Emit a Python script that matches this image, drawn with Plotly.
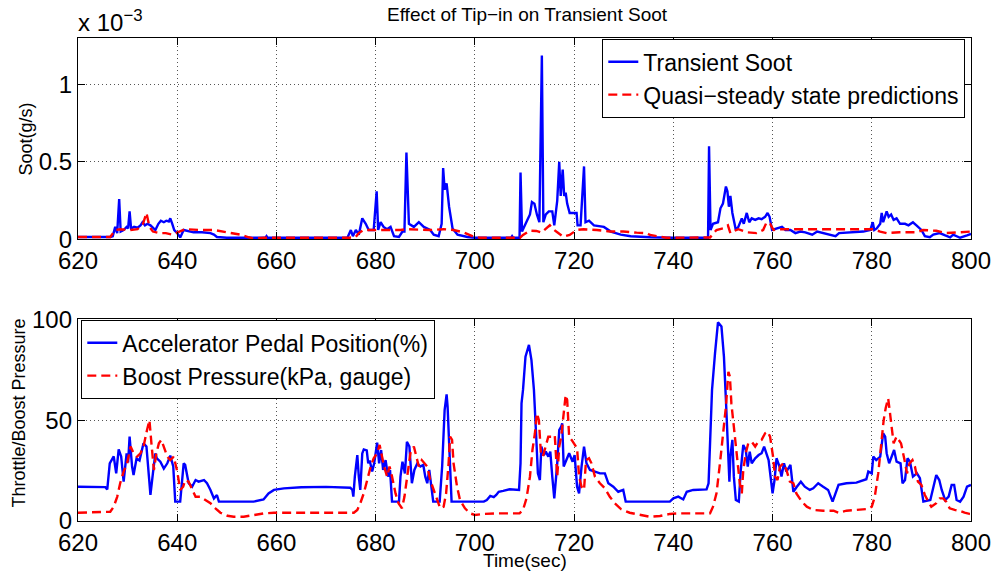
import plotly.graph_objects as go

# ---- Soot rate (units of 1e-3 g/s) ----
soot_t = [620, 626.5, 627.0, 627.5, 627.9, 628.3, 628.6, 629.2, 629.8, 630.1, 630.4, 630.7, 631.3, 632.0,
          632.6, 633.0, 633.5, 634.0, 634.6, 635.2, 635.6, 636.2, 636.7, 637.3, 637.8, 638.3, 638.6, 639.0,
          639.4, 640.0, 640.6, 641.3, 642.3, 643.3, 645.0, 646.7, 647.4, 648.0, 650, 657.8, 658.0, 658.2,
          674.3, 675.0, 675.4, 676.0, 676.6, 677.3, 678.0, 678.6, 679.6, 680.2, 680.5, 681.0, 681.6, 682.3,
          683.0, 683.7, 684.7, 685.4, 685.8, 686.2, 686.7, 687.7, 688.7, 689.7, 691.0, 691.7, 692.7, 693.3,
          693.6, 693.9, 694.3, 694.8, 695.5, 696.5, 698.5, 700, 707.3, 707.5, 707.7, 709.0, 709.2, 709.5,
          710.5, 711.1, 711.5, 712.0, 712.5, 713.0, 713.5, 713.8, 714.3, 714.9, 715.6, 716.0, 716.6, 717.0,
          717.3, 717.7, 718.0, 718.3, 718.6, 719.1, 720.5, 720.7, 721.3, 722.0, 722.3, 723.0, 724.0, 726.0,
          727.4, 729.4, 731.4, 735.4, 740, 747.0, 747.2, 747.5, 748.0, 749.0, 749.5, 750.0, 750.6, 750.9,
          751.2, 751.5, 751.9, 752.2, 752.6, 753.1, 753.8, 754.2, 754.8, 755.3, 755.8, 756.5, 757.2, 757.8,
          758.5, 759.0, 759.4, 759.9, 760.9, 761.9, 762.6, 763.6, 764.6, 765.6, 766.6, 768.0, 769.0, 770.3,
          771.7, 772.7, 773.4, 775.0, 776.4, 778.3, 779.7, 780.2, 780.5, 781.0, 781.7, 782.0, 782.3, 783.0,
          783.4, 783.9, 784.4, 785.0, 785.7, 786.7, 787.4, 788.3, 789.0, 790.0, 790.7, 791.7, 792.4, 793.7,
          794.8, 795.8, 796.4, 797.8, 799.2, 800]
soot_v = [0.015, 0.015, 0.02, 0.08, 0.04, 0.26, 0.05, 0.06, 0.08, 0.07, 0.18, 0.07, 0.08, 0.075,
          0.09, 0.11, 0.09, 0.10, 0.09, 0.07, 0.06, 0.10, 0.12, 0.11, 0.12, 0.115, 0.135, 0.10,
          0.06, 0.04, 0.012, 0.06, 0.05, 0.045, 0.045, 0.04, 0.03, 0.015, 0.01, 0.01, 0.02, 0.01,
          0.01, 0.06, 0.02, 0.06, 0.03, 0.135, 0.10, 0.06, 0.06, 0.31, 0.06, 0.11, 0.08, 0.065,
          0.08, 0.02, 0.015, 0.05, 0.05, 0.56, 0.10, 0.08, 0.11, 0.08, 0.06, 0.03, 0.02, 0.10,
          0.46, 0.32, 0.36, 0.21, 0.07, 0.03, 0.015, 0.01, 0.01, 0.02, 0.01, 0.01, 0.43, 0.05,
          0.12, 0.16, 0.24, 0.23, 0.16, 0.11, 1.185, 0.11, 0.16, 0.18, 0.18, 0.09, 0.25, 0.50,
          0.28, 0.45, 0.28, 0.30, 0.23, 0.17, 0.17, 0.09, 0.09, 0.47, 0.11, 0.12, 0.09, 0.08,
          0.05, 0.03, 0.02, 0.013, 0.01, 0.01, 0.60, 0.06, 0.10, 0.11, 0.20, 0.23, 0.34, 0.31,
          0.21, 0.28, 0.17, 0.12, 0.06, 0.08, 0.135, 0.10, 0.17, 0.11, 0.135, 0.125, 0.135, 0.13,
          0.145, 0.17, 0.145, 0.06, 0.07, 0.08, 0.06, 0.06, 0.04, 0.05, 0.045, 0.03, 0.05, 0.04,
          0.03, 0.02, 0.04, 0.043, 0.045, 0.05, 0.06, 0.11, 0.06, 0.07, 0.10, 0.17, 0.11, 0.18,
          0.145, 0.16, 0.125, 0.135, 0.10, 0.10, 0.09, 0.11, 0.09, 0.06, 0.02, 0.013, 0.03, 0.04,
          0.025, 0.013, 0.03, 0.01, 0.025, 0.035]

qss_t = [620, 626.5, 627.5, 628.5, 630.5, 632.0, 633.1, 633.8, 634.4, 635.1, 636.4, 637.7, 639.0, 640.6,
         641.6, 644.7, 647.4, 650.0, 652.7, 654.4, 655.4, 657.5, 674.7, 676.0, 676.6, 677.6, 685.0, 686.1,
         691.0, 693.7, 695.7, 697.7, 699.7, 701.0, 709.1, 709.7, 711.1, 712.4, 713.4, 715.1, 715.6, 716.4,
         717.8, 719.1, 720.5, 721.9, 724.6, 727.2, 729.9, 732.6, 734.6, 735.3, 737.3, 738.6, 747.4, 748.7,
         750.0, 751.0, 751.5, 752.0, 753.1, 754.8, 756.8, 758.1, 758.8, 759.5, 760.2, 761.5, 779.7, 780.3,
         781.7, 783.0, 785.6, 789.0, 790.3, 793.0, 795.0, 797.6, 799.7, 800]
qss_v = [0.015, 0.015, 0.06, 0.065, 0.06, 0.065, 0.10, 0.17, 0.08, 0.05, 0.04, 0.04, 0.03, 0.05,
         0.065, 0.06, 0.06, 0.045, 0.03, 0.013, 0.005, 0.01, 0.01, 0.015, 0.04, 0.06, 0.06, 0.065,
         0.06, 0.065, 0.06, 0.045, 0.017, 0.01, 0.01, 0.028, 0.056, 0.054, 0.043, 0.09, 0.07, 0.05,
         0.017, 0.028, 0.06, 0.065, 0.06, 0.05, 0.05, 0.043, 0.04, 0.028, 0.017, 0.01, 0.012, 0.06,
         0.07, 0.09, 0.04, 0.05, 0.065, 0.045, 0.04, 0.06, 0.11, 0.10, 0.06, 0.065, 0.065, 0.065,
         0.05, 0.04, 0.045, 0.045, 0.06, 0.055, 0.04, 0.045, 0.05, 0.05]

# ---- Pedal position (%) and boost pressure (kPa gauge) ----
pedal_t = [620, 625.5, 625.9, 626.4, 627.2, 627.7, 628.2, 628.7, 629.2, 629.8, 630.1, 630.4, 630.9, 631.2,
           631.8, 632.4, 633.2, 633.8, 634.3, 634.6, 635.1, 635.6, 635.9, 636.6, 637.3, 638.0, 638.6, 639.2,
           639.6, 640.6, 641.3, 641.6, 642.3, 643.0, 643.7, 644.3, 645.4, 646.0, 646.7, 647.4, 648.0, 648.4,
           655.4, 656.5, 657.4, 658.4, 659.5, 661.5, 665, 670, 674.9, 675.3, 675.5, 675.8, 676.3, 676.6,
           676.9, 677.3, 677.6, 678.2, 678.5, 678.8, 679.3, 679.7, 680.3, 680.7, 681.1, 681.5, 682.0, 682.5,
           682.9, 683.3, 684.7, 685.0, 685.4, 685.9, 686.3, 686.8, 687.3, 687.8, 688.4, 689.0, 689.6, 690.0,
           690.4, 690.8, 691.2, 691.6, 692.9, 693.4, 693.9, 694.3, 694.5, 694.9, 695.3, 701.8, 702.4, 703.1,
           703.8, 704.3, 704.8, 705.7, 707.0, 708.9, 709.2, 709.4, 709.7, 710.2, 710.9, 711.4, 711.9, 712.3,
           712.7, 713.1, 713.4, 713.9, 714.3, 714.8, 715.2, 715.6, 716.0, 716.6, 717.0, 717.4, 717.6, 717.9,
           718.5, 719.0, 719.7, 720.1, 720.6, 721.0, 721.5, 722.0, 722.5, 723.2, 724.2, 725.2, 726.2, 726.9,
           727.9, 728.9, 729.9, 730.4, 739.3, 740.0, 741.0, 742.0, 742.7, 744.0, 746.7, 747.1, 747.4, 747.8,
           748.4, 749.0, 749.7, 750.2, 750.6, 750.9, 751.3, 751.5, 751.9, 752.2, 752.6, 753.2, 753.6, 754.1,
           754.6, 755.0, 755.4, 755.8, 756.5, 757.2, 757.8, 758.3, 758.8, 759.2, 759.6, 760.0, 760.4, 760.8,
           761.4, 761.8, 762.3, 762.8, 763.6, 764.2, 764.9, 765.7, 766.5, 767.5, 768.2, 769.2, 770.2, 771.2,
           772.1, 772.6, 773.3, 774.9, 776.9, 778.9, 779.3, 780.0, 780.3, 780.9, 781.3, 781.7, 782.0, 782.3,
           782.7, 783.0, 783.5, 784.0, 784.5, 785.0, 785.8, 786.2, 786.7, 787.2, 787.7, 788.3, 789.1, 789.7,
           790.4, 791.8, 792.4, 793.0, 793.6, 794.1, 794.8, 795.5, 796.1, 796.6, 797.1, 797.8, 798.5, 799.2,
           800]
pedal_v = [17.0, 16.8, 15.7, 28.6, 32, 23.6, 35.5, 32, 19.5, 33.5, 29, 41.8, 27, 22.8,
           31, 30, 38.5, 36.9, 22, 12.9, 23.6, 33.5, 31, 29.4, 26, 28.6, 32.4, 27,
           9.6, 9.6, 28.6, 27.8, 18.7, 17, 20.3, 19.5, 20.3, 18.7, 15.4, 11.2, 12.9, 9.6,
           9.6, 10.0, 10.7, 13.7, 15.4, 16.2, 16.7, 16.9, 16.5, 15.4, 12.1, 22, 32.7, 22,
           15.4, 33.5, 35.5, 35, 28.6, 30, 24.5, 28.6, 38.8, 28.6, 35.2, 25.3, 30.2, 22,
           25.3, 9.6, 9.6, 22, 29.4, 23.6, 39.3, 36.9, 18.7, 25.3, 28.6, 27, 27.8, 22,
           18.7, 25.3, 17, 9.6, 9.6, 27, 55, 62.8, 56.7, 33.5, 9.6, 9.6, 10.4, 12.4,
           11.8, 12.9, 14.5, 14.9, 15.7, 15.4, 28.6, 58.3, 65, 81.5, 87.3, 79.8, 65, 45,
           23.6, 20.3, 36.9, 32.7, 34.4, 31.9, 34.4, 22, 11.2, 28.6, 45.1, 46.8, 48.4, 27,
           30.2, 33.6, 29.4, 32.7, 17, 13.7, 27, 36.9, 28.6, 25.3, 24.5, 23.6, 23.6, 18.7,
           17, 14.5, 15.4, 9.6, 9.6, 11.2, 12.1, 10.7, 14.5, 15.4, 15.7, 18.7, 38.5, 65,
           83.1, 98.5, 96.4, 81.5, 60, 40.2, 19.5, 31.9, 40.2, 22, 10.4, 9.6, 25.3, 37.7,
           35.2, 27, 34.4, 28.6, 31.1, 32.7, 33.6, 36.9, 33.6, 30.2, 22, 13.7, 20.3, 31.1,
           27, 22, 28.6, 24.5, 27.8, 14.5, 17, 19.5, 17, 15.4, 16.2, 18.7, 17, 15.4,
           9.6, 12.9, 17.9, 18.7, 19, 20.7, 24.5, 23.6, 31.9, 30.2, 31, 31.9, 37.7, 43.5,
           41.8, 33.6, 28.6, 31.9, 35.2, 29.4, 28.6, 18.7, 20.3, 31.1, 29.4, 22, 23.6, 21.2,
           9.6, 10.4, 17, 22.8, 20.3, 15.4, 10.4, 12.1, 17.9, 17.9, 10.4, 9.6, 12.1, 17,
           17.9]

boost_t = [620, 626.5, 627.2, 627.9, 628.5, 629.2, 629.9, 630.6, 631.2, 631.9, 632.6, 633.2, 633.9, 634.4,
           634.8, 635.3, 635.8, 636.3, 636.8, 637.3, 638.0, 638.6, 639.3, 640.0, 640.6, 641.2, 641.6, 642.3,
           643.0, 643.7, 644.7, 645.7, 646.7, 647.7, 648.7, 650.1, 651.4, 653.4, 655.4, 657.5, 659.5, 675.6,
           676.3, 676.9, 677.6, 678.3, 679.0, 679.6, 680.3, 680.8, 681.3, 681.7, 682.3, 682.8, 683.3, 684.0,
           684.6, 685.3, 685.8, 686.3, 687.0, 687.7, 688.2, 688.7, 689.3, 689.8, 690.4, 691.0, 691.7, 692.3,
           693.0, 693.7, 694.2, 694.7, 695.0, 695.4, 695.7, 696.4, 697.0, 698.0, 699.0, 700.0, 701.8, 704.8,
           709.0, 709.7, 710.4, 711.1, 711.6, 712.1, 712.5, 712.9, 713.3, 713.7, 714.2, 714.8, 715.4, 716.1,
           716.6, 717.0, 717.4, 717.9, 718.3, 718.6, 719.0, 719.5, 720.1, 720.6, 721.0, 721.5, 722.0, 722.4,
           723.0, 723.5, 724.2, 725.2, 726.2, 727.2, 728.2, 729.5, 731.2, 733.2, 735.3, 737.3, 739.3, 741.3,
           747.4, 748.0, 748.7, 749.4, 750.1, 750.6, 751.1, 751.4, 751.7, 752.1, 752.4, 752.9, 753.4, 753.8,
           754.1, 754.6, 755.1, 755.8, 756.5, 757.1, 757.8, 758.5, 759.0, 759.5, 760.1, 760.5, 761.0, 761.5,
           762.2, 762.8, 763.5, 764.2, 764.8, 765.9, 766.9, 768.2, 770.2, 772.3, 773.3, 774.9, 776.9, 779.3,
           780.0, 780.6, 781.3, 782.0, 782.4, 782.8, 783.3, 783.6, 784.0, 784.4, 785.0, 785.5, 785.9, 786.6,
           787.1, 787.6, 788.2, 788.7, 789.3, 790.0, 790.7, 791.4, 792.0, 793.0, 793.7, 794.4, 795.0, 795.7,
           796.7, 797.7, 798.7, 799.7, 800]
boost_v = [4.1, 4.6, 7.1, 12, 18.7, 24.5, 28.6, 36.9, 33.6, 31.9, 33.6, 36.9, 45, 50,
           38.5, 25.3, 33.6, 38.5, 40.2, 36.9, 31.9, 30.2, 31.9, 24.5, 15.4, 17, 20.3, 19.5,
           15.4, 12, 12, 10.4, 8.8, 6.3, 4.1, 2.6, 2.1, 2.1, 3, 3.8, 4.1, 4.1,
           5.5, 8.8, 13.7, 20.3, 27, 31.1, 33.6, 37.7, 31.9, 27, 22, 27, 22, 13.7,
           8.8, 6.3, 12, 22, 33.6, 36.9, 31.9, 27, 30.2, 28.6, 27, 20.3, 15.4, 10.4,
           6.3, 7.1, 13.7, 28.6, 41.8, 40.2, 28.6, 17, 10.4, 6.3, 3.8, 3.0, 3.5, 3.8,
           3.8, 5.5, 11.2, 22, 35.2, 43.5, 53.4, 50, 33.6, 31.9, 36.9, 41.8, 41.8, 42.6,
           22, 36.9, 41.8, 55, 62.5, 60, 41.8, 40.2, 37.7, 36, 22, 17, 15.4, 30.2,
           31.1, 28.6, 22, 18.7, 16.2, 12, 8.8, 5.8, 4.1, 3, 2.1, 2.5, 3.5, 3.8,
           3.8, 7.1, 13.7, 28.6, 43.5, 56.7, 74, 71.6, 58.3, 48.4, 40.2, 28.6, 18.7, 13.7,
           25.3, 33.6, 38.5, 39.3, 36.9, 39.3, 40.2, 43.5, 44.3, 41.8, 31.9, 22, 20.3, 27,
           28.6, 25.3, 19.5, 18.7, 13.7, 9.6, 7.1, 5.5, 5.1, 5.1, 4.1, 5.1, 5.5, 6,
           7.1, 12, 23.6, 41.8, 50, 55.9, 60.8, 55, 45.1, 38.5, 41.8, 40.2, 38.5, 30.2,
           23.6, 28.6, 30.2, 27, 19.5, 17.9, 12.9, 9.6, 7.1, 8.8, 11.2, 11.2, 9.6, 6.3,
           5.5, 5.1, 4.1, 3.5, 3.4]

x_ticks = [620, 640, 660, 680, 700, 720, 740, 760, 780, 800]
soot_ticks = [0, 0.5, 1]
soot_tick_text = ["0", "0.5", "1"]
pedal_ticks = [0, 50, 100]

W, H = 999, 574
FONT = "Liberation Sans, Arial, Helvetica, sans-serif"
BLUE = "#0000FF"
RED = "#FF0000"
LW = 2.4
DASH = "9px,5px"


def px_x(p):
    return p / W


def px_y(p):
    return 1 - p / H


fig = go.Figure()

fig.add_trace(go.Scatter(x=soot_t, y=soot_v, mode="lines", name="Transient Soot",
                         line=dict(color=BLUE, width=LW), xaxis="x", yaxis="y", legend="legend"))
fig.add_trace(go.Scatter(x=qss_t, y=qss_v, mode="lines", name="Quasi\u2212steady state predictions",
                         line=dict(color=RED, width=LW, dash=DASH), xaxis="x", yaxis="y", legend="legend"))
fig.add_trace(go.Scatter(x=pedal_t, y=pedal_v, mode="lines", name="Accelerator Pedal Position(%)",
                         line=dict(color=BLUE, width=LW), xaxis="x2", yaxis="y2", legend="legend2"))
fig.add_trace(go.Scatter(x=boost_t, y=boost_v, mode="lines", name="Boost Pressure(kPa, gauge)",
                         line=dict(color=RED, width=LW, dash=DASH), xaxis="x2", yaxis="y2", legend="legend2"))

axis_common = dict(
    showline=True, linecolor="black", linewidth=1.3, mirror="allticks",
    ticks="inside", ticklen=7, tickwidth=1, tickcolor="black",
    showgrid=True, gridcolor="#555555", gridwidth=1, griddash="1px,3px",
    zeroline=False, automargin=False,
    tickfont=dict(family=FONT, size=24, color="black"),
)

x_dom = [px_x(78), px_x(971)]
fig.update_layout(
    width=W, height=H, autosize=False,
    margin=dict(l=0, r=0, t=0, b=0),
    paper_bgcolor="white", plot_bgcolor="white",
    template="none",
    font=dict(family=FONT, color="black"),
    xaxis=dict(axis_common, domain=x_dom, range=[620, 800], tickvals=x_ticks, anchor="y"),
    yaxis=dict(axis_common, domain=[px_y(239.3), px_y(37.7)], range=[0, 1.3],
               tickvals=soot_ticks, ticktext=soot_tick_text, anchor="x"),
    xaxis2=dict(axis_common, domain=x_dom, range=[620, 800], tickvals=x_ticks, anchor="y2"),
    yaxis2=dict(axis_common, domain=[px_y(521), px_y(319.3)], range=[0, 100],
                tickvals=pedal_ticks, anchor="x2"),
    legend=dict(x=px_x(965), y=px_y(39), xanchor="right", yanchor="top",
                bgcolor="white", bordercolor="black", borderwidth=1.3,
                font=dict(family=FONT, size=23, color="black"), tracegroupgap=0),
    legend2=dict(x=px_x(81), y=px_y(320), xanchor="left", yanchor="top",
                 bgcolor="white", bordercolor="black", borderwidth=1.3,
                 font=dict(family=FONT, size=23, color="black"), tracegroupgap=0),
    showlegend=True,
)

annotations = [
    dict(text="Effect of Tip\u2212in on Transient Soot", x=px_x(527), y=px_y(14),
         font=dict(size=19)),
    dict(text="Time(sec)", x=px_x(525), y=px_y(560), font=dict(size=19)),
    dict(text="Soot(g/s)", x=px_x(25), y=px_y(139.5), textangle=-90, font=dict(size=18)),
    dict(text="Throttle/Boost Pressure", x=px_x(18), y=px_y(413.5), textangle=-90,
         font=dict(size=18)),
    dict(text="x 10<sup>\u22123</sup>", x=px_x(76), y=px_y(21), xanchor="left",
         font=dict(size=24)),
]
for a in annotations:
    a.setdefault("xanchor", "center")
    a.update(xref="paper", yref="paper", yanchor="middle", showarrow=False)
    a["font"] = dict(family=FONT, color="black", **a["font"])
fig.update_layout(annotations=annotations)

fig.write_html("out.html")
